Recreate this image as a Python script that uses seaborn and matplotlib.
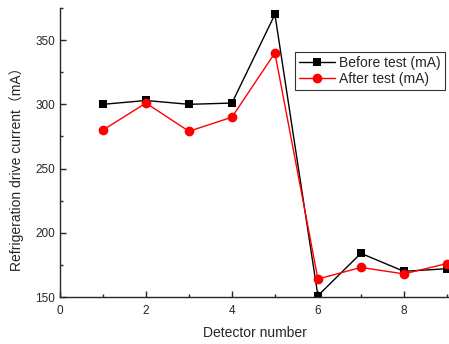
import matplotlib
matplotlib.use("Agg")
import matplotlib.pyplot as plt
import seaborn as sns
import pandas as pd
from matplotlib.ticker import MultipleLocator

detectors = [1, 2, 3, 4, 5, 6, 7, 8, 9]
before_test = [300, 303, 300, 301, 370, 151, 184, 170, 172]
after_test = [280, 301, 279, 290, 340, 164, 173, 168, 176]

sns.set_style("ticks")
plt.rcParams["font.family"] = ["Liberation Sans", "DejaVu Sans"]

df = pd.DataFrame({"detector": detectors, "before": before_test, "after": after_test})

fig = plt.figure(figsize=(4.49, 3.44), dpi=100)
ax = fig.add_axes([60 / 449, 1 - 297 / 344, 1 - 60 / 449, (297 - 8) / 344])

sns.lineplot(data=df, x="detector", y="before", ax=ax, color="black", lw=1,
             marker="s", markersize=6, markeredgewidth=0, label="Before test (mA)")
sns.lineplot(data=df, x="detector", y="after", ax=ax, color="red", lw=1,
             marker="o", markersize=7, markeredgewidth=0, label="After test (mA)")

ax.set_xlim(0, 9.05)
ax.set_ylim(150, 375)
ax.xaxis.set_major_locator(MultipleLocator(2))
ax.xaxis.set_minor_locator(MultipleLocator(1))
ax.yaxis.set_major_locator(MultipleLocator(50))
ax.yaxis.set_minor_locator(MultipleLocator(25))
ax.tick_params(which="both", direction="in", labelsize=8.5, width=1)
ax.tick_params(which="major", length=4)
ax.tick_params(which="minor", length=2.5)
ax.tick_params(axis="x", pad=6)
for s in ["top", "right"]:
    ax.spines[s].set_visible(False)
for s in ["left", "bottom"]:
    ax.spines[s].set_linewidth(1)

ax.set_xlabel("Detector number", fontsize=10, labelpad=6)
ax.set_ylabel("Refrigeration drive current（mA）", fontsize=10,
              family=["Liberation Sans", "Noto Sans CJK SC"])
ax.yaxis.set_label_coords(-0.093, 0.455)

leg = ax.legend(loc="upper left", bbox_to_anchor=((295 - 60) / 389, (297 - 52) / 289),
                bbox_transform=ax.transAxes, fontsize=10, frameon=True, fancybox=False,
                edgecolor="black", borderpad=0.3, handlelength=2.6, labelspacing=0.1,
                handletextpad=0.3, borderaxespad=0)
leg.get_frame().set_linewidth(0.8)

fig.savefig("out.png", dpi=100)
